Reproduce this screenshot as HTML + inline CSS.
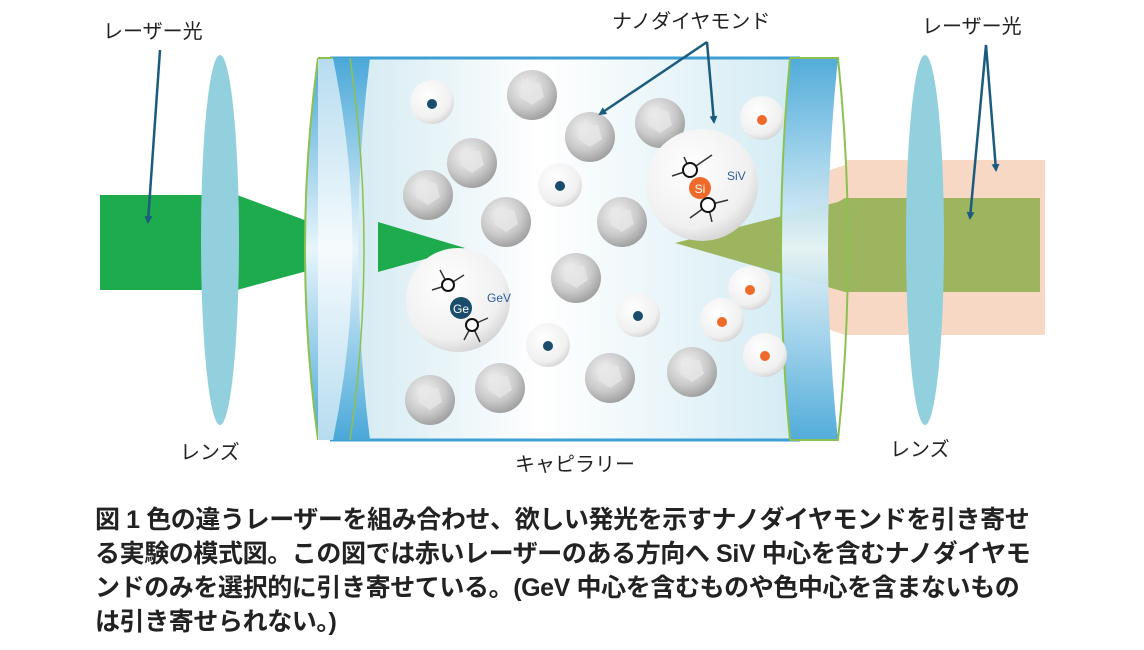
<!DOCTYPE html>
<html><head><meta charset="utf-8"><style>
html,body{margin:0;padding:0;background:#fff}
body{width:1144px;height:650px;overflow:hidden;position:relative;font-family:"Liberation Sans","Noto Sans CJK JP",sans-serif}
.cap{position:absolute;left:95px;top:503px;font-size:25px;line-height:34px;color:#222;font-weight:bold;letter-spacing:-0.4px;white-space:nowrap;transform:scaleX(1.0);transform-origin:left top}
</style></head><body>
<svg width="1144" height="480" style="position:absolute;left:0;top:0" font-family="Liberation Sans, Noto Sans CJK JP, sans-serif">
<defs>
<linearGradient id="body" x1="0" x2="1"><stop offset="0" stop-color="#cfe8f0"/><stop offset="0.45" stop-color="#ffffff"/><stop offset="1" stop-color="#d3ebf3"/></linearGradient>
<linearGradient id="band" x1="0" y1="0" x2="0" y2="1"><stop offset="0" stop-color="#4aa8d8"/><stop offset="0.5" stop-color="#e8f5fb"/><stop offset="1" stop-color="#4aa8d8"/></linearGradient>
<radialGradient id="gb" cx="0.4" cy="0.35" r="0.7"><stop offset="0" stop-color="#f4f4f4"/><stop offset="0.6" stop-color="#c9c9c9"/><stop offset="1" stop-color="#9a9a9a"/></radialGradient>
<radialGradient id="wb" cx="0.4" cy="0.35" r="0.75"><stop offset="0" stop-color="#ffffff"/><stop offset="0.7" stop-color="#f0f0f0"/><stop offset="1" stop-color="#c8c8c8"/></radialGradient>
<marker id="ah" markerWidth="8" markerHeight="8" refX="6" refY="4" orient="auto" markerUnits="userSpaceOnUse"><path d="M0,0 L8,4 L0,8 z" fill="#1b5b7e"/></marker>
<g id="g"><circle r="25" fill="url(#gb)"/><polygon points="-8,-12 8,-12 12,2 0,10 -12,2" fill="#e6e6e6" opacity="0.8"/></g>
<g id="sm"><circle r="22" fill="url(#wb)"/></g>
</defs>
<polygon points="1045,160 1045,335 845,335 600,250 845,165 845,160" fill="#f6d8c4"/>
<polygon points="100,195 237,195 318,225 318,268 237,290 100,290" fill="#1eab4e"/>
<ellipse cx="220" cy="240" rx="19" ry="185" fill="#92d0de"/>
<rect x="330" y="58" width="470" height="382" fill="url(#body)"/>
<line x1="330" y1="58" x2="800" y2="58" stroke="#3d9fd3" stroke-width="3"/>
<line x1="330" y1="440" x2="800" y2="440" stroke="#3d9fd3" stroke-width="3"/>
<path d="M318,58 Q292,249 318,440 L370,440 Q346,249 370,58 Z" fill="url(#band)"/>
<path d="M318,58 Q292,249 318,440" fill="none" stroke="#8cc152" stroke-width="2"/>
<path d="M318,58 L333,58 Q372,249 333,440 L318,440" fill="#fff" opacity="0.6"/>
<path d="M318,58 L333,58" stroke="#8cc152" stroke-width="2"/>
<path d="M350,58 Q378,249 350,440" fill="none" stroke="#8cc152" stroke-width="1.5"/>
<polygon points="378,222 465,248 378,272" fill="#1eab4e"/>
<polygon points="1040,198 1040,292 845,292 675,243 838,202 845,198" fill="#9cb55e"/>
<path d="M790,58 Q772,249 790,440 L838,440 Q818,249 838,58 Z" fill="url(#band)" opacity="0.95"/>
<path d="M790,58 Q772,249 790,440" fill="none" stroke="#8cc152" stroke-width="2"/>
<path d="M790,58 L838,58 Q858,249 838,440 L790,440" fill="none" stroke="#8cc152" stroke-width="2"/>
<ellipse cx="925" cy="240" rx="19" ry="185" fill="#92d0de"/>
<use href="#g" x="532" y="95"/><use href="#g" x="590" y="137"/><use href="#g" x="660" y="123"/>
<use href="#g" x="472" y="163"/><use href="#g" x="428" y="195"/><use href="#g" x="506" y="222"/>
<use href="#g" x="622" y="222"/><use href="#g" x="576" y="278"/><use href="#g" x="430" y="400"/>
<use href="#g" x="500" y="388"/><use href="#g" x="610" y="378"/><use href="#g" x="692" y="372"/>
<g><use href="#sm" x="432" y="102"/><circle cx="432" cy="104" r="5" fill="#1a4d6b"/></g>
<g><use href="#sm" x="560" y="185"/><circle cx="560" cy="186" r="5" fill="#1a4d6b"/></g>
<g><use href="#sm" x="548" y="345"/><circle cx="548" cy="346" r="5" fill="#1a4d6b"/></g>
<g><use href="#sm" x="638" y="315"/><circle cx="638" cy="316" r="5" fill="#1a4d6b"/></g>
<g><use href="#sm" x="762" y="118"/><circle cx="762" cy="120" r="5" fill="#ee6a2a"/></g>
<g><use href="#sm" x="750" y="288"/><circle cx="750" cy="290" r="5" fill="#ee6a2a"/></g>
<g><use href="#sm" x="722" y="320"/><circle cx="722" cy="322" r="5" fill="#ee6a2a"/></g>
<g><use href="#sm" x="765" y="355"/><circle cx="765" cy="356" r="5" fill="#ee6a2a"/></g>
<circle cx="458" cy="300" r="52" fill="url(#wb)"/>
<g stroke="#333" stroke-width="1.5"><line x1="448" y1="285" x2="432" y2="290"/><line x1="448" y1="285" x2="440" y2="270"/><line x1="448" y1="285" x2="464" y2="275"/><line x1="472" y1="325" x2="488" y2="318"/><line x1="472" y1="325" x2="464" y2="340"/><line x1="472" y1="325" x2="480" y2="342"/></g>
<circle cx="461" cy="308" r="11" fill="#1a4d6b"/><text x="461" y="313" font-size="12" fill="#fff" text-anchor="middle">Ge</text>
<circle cx="448" cy="285" r="6" fill="#fff" stroke="#111" stroke-width="2"/><circle cx="472" cy="325" r="6" fill="#fff" stroke="#111" stroke-width="2"/>
<text x="487" y="302" font-size="12" fill="#2b5d9a">GeV</text>
<circle cx="702" cy="185" r="56" fill="url(#wb)"/>
<g stroke="#333" stroke-width="1.5"><line x1="690" y1="170" x2="672" y2="176"/><line x1="690" y1="170" x2="684" y2="157"/><line x1="690" y1="170" x2="712" y2="155"/><line x1="708" y1="205" x2="728" y2="200"/><line x1="708" y1="205" x2="690" y2="218"/><line x1="708" y1="205" x2="712" y2="222"/></g>
<circle cx="700" cy="188" r="11" fill="#ee6a2a"/><text x="700" y="193" font-size="12" fill="#fff" text-anchor="middle">Si</text>
<circle cx="690" cy="170" r="7" fill="#fff" stroke="#111" stroke-width="2"/><circle cx="708" cy="205" r="7" fill="#fff" stroke="#111" stroke-width="2"/>
<text x="727" y="180" font-size="12" fill="#2b5d9a">SiV</text>
<g stroke="#1b5b7e" stroke-width="2.5" fill="none" marker-end="url(#ah)">
<line x1="160" y1="50" x2="148" y2="222"/>
<line x1="707" y1="42" x2="600" y2="114"/>
<line x1="707" y1="42" x2="714" y2="122"/>
<line x1="986" y1="45" x2="996" y2="170"/>
<line x1="986" y1="45" x2="970" y2="218"/>
</g>
<g font-size="20" fill="#222">
<text x="103" y="38">レーザー光</text>
<text x="612" y="28">ナノダイヤモンド</text>
<text x="922" y="33">レーザー光</text>
<text x="180" y="459">レンズ</text>
<text x="890" y="456">レンズ</text>
<text x="515" y="471">キャピラリー</text>
</g>
</svg>
<div class="cap">図 1 色の違うレーザーを組み合わせ、欲しい発光を示すナノダイヤモンドを引き寄せ<br>る実験の模式図。この図では赤いレーザーのある方向へ SiV 中心を含むナノダイヤモ<br>ンドのみを選択的に引き寄せている。(GeV 中心を含むものや色中心を含まないもの<br>は引き寄せられない。)</div>
</body></html>
